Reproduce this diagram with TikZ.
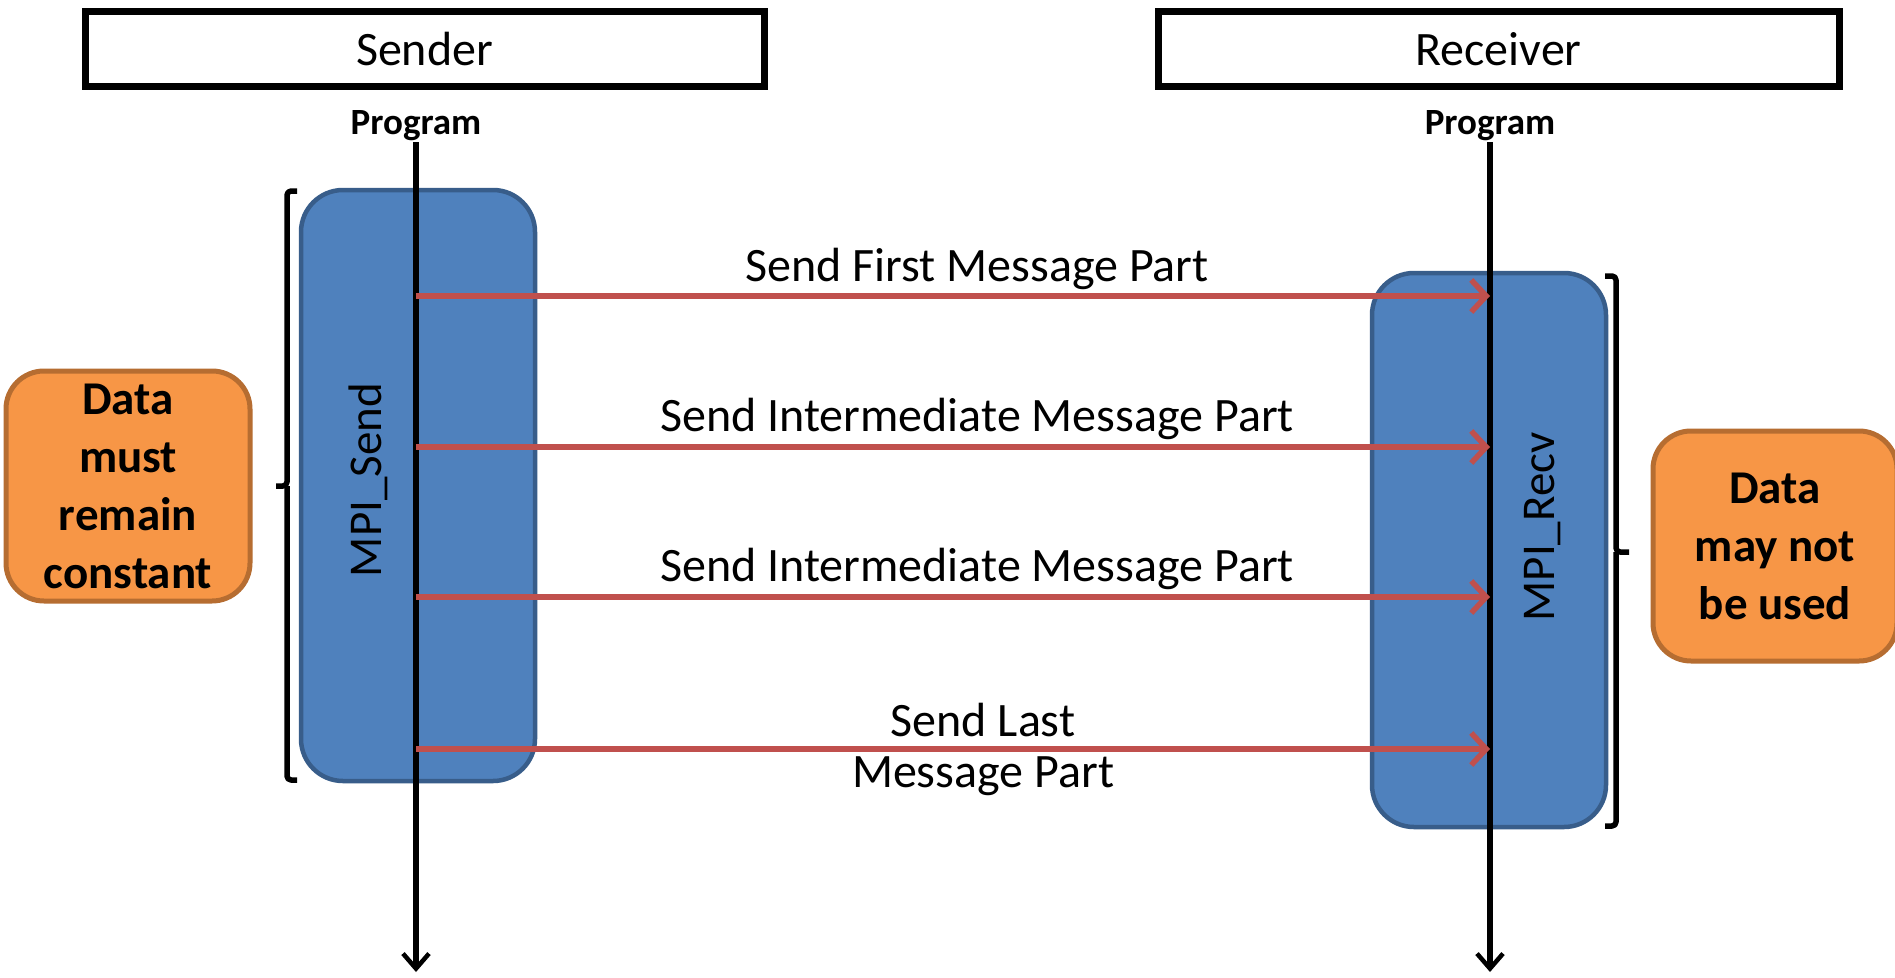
\documentclass[tikz,border=0pt]{standalone}
\usepackage{fontspec}
\setmainfont{Carlito}
\usetikzlibrary{arrows.meta}
\definecolor{procfill}{HTML}{4F81BD}
\definecolor{procline}{HTML}{385D8A}
\definecolor{notefill}{HTML}{F79646}
\definecolor{noteline}{HTML}{B66D31}
\definecolor{msgred}{HTML}{C0504D}
\tikzset{
  party/.style={draw=black, line width=7pt, minimum width=#1, minimum height=75pt, font=\fontsize{48}{58}\selectfont, inner sep=0pt},
  proglabel/.style={font=\fontsize{37}{44}\selectfont\bfseries},
  procbox/.style={draw=procline, line width=4.5pt, fill=procfill, rounded corners=42pt},
  proctext/.style={font=\fontsize{47}{56}\selectfont, rotate=90},
  notebox/.style={draw=noteline, line width=5pt, fill=notefill, rounded corners=38pt, align=center, font=\fontsize{47}{58}\selectfont\bfseries, inner sep=0pt},
  lifeline/.style={line width=5.5pt, -{Straight Barb[length=15pt,width=26pt,line width=4.5pt]}},
  msg/.style={draw=msgred, line width=6pt, -{Straight Barb[length=15pt,width=32pt,line width=5.5pt]}},
  msglabel/.style={font=\fontsize{48}{57}\selectfont, align=center},
  brk/.style={line width=5.5pt, line join=round, rounded corners=4pt},
}
\begin{document}
\begin{tikzpicture}[x=1pt, y=-1pt]
  \useasboundingbox (0,0) rectangle (1895,977);
  \fill[white] (0,0) rectangle (1895,977);

  % participants
  \node[party=679pt] (sender) at (424.5,48.5) {Sender};
  \node[party=681pt] (receiver) at (1498.5,49) {Receiver};
  \node[proglabel] (progS) at (416,126) {Program};
  \node[proglabel] (progR) at (1490,126) {Program};

  % blocking calls
  \draw[procbox] (301,190) rectangle (535,781);
  \node[proctext] (send) at (368,480) {MPI\_Send};
  \draw[procbox] (1372,273) rectangle (1606,827);
  \node[proctext] (recv) at (1543,527) {MPI\_Recv};

  % lifelines
  \coordinate (sTop) at (416,142);
  \coordinate (sBot) at (416,972);
  \coordinate (rTop) at (1490,142);
  \coordinate (rBot) at (1490,972);
  \draw[lifeline] (sTop) -- (sBot);
  \draw[lifeline] (rTop) -- (rBot);

  % message parts
  \foreach \n/\y in {1/296, 2/447, 3/597, 4/749} {
    \coordinate (s\n) at (416,\y);
    \coordinate (r\n) at (1490,\y);
    \draw[msg] (s\n) -- (r\n);
  }
  \node[msglabel] (m1) at (977,269) {Send First Message Part};
  \node[msglabel] (m2) at (977,419) {Send Intermediate Message Part};
  \node[msglabel] (m3) at (977,569) {Send Intermediate Message Part};
  \node[msglabel] (m4a) at (983,720) {Send Last};
  \node[msglabel] (m4b) at (983,776) {Message Part};

  % brackets
  \draw[brk] (297,191) -- (287,191) -- (287,486) -- (276,486);
  \draw[brk] (287,486) -- (287,780) -- (297,780);
  \draw[brk] (1605,276) -- (1616,276) -- (1616,552) -- (1629,552);
  \draw[brk] (1616,552) -- (1616,826) -- (1605,826);

  % notes
  \node[notebox, minimum width=244pt, minimum height=230pt] (noteS) at (128,486)
    {Data\\must\\remain\\constant};
  \node[notebox, minimum width=244pt, minimum height=230pt] (noteR) at (1775,546)
    {Data\\may not\\be used};
\end{tikzpicture}
\end{document}
